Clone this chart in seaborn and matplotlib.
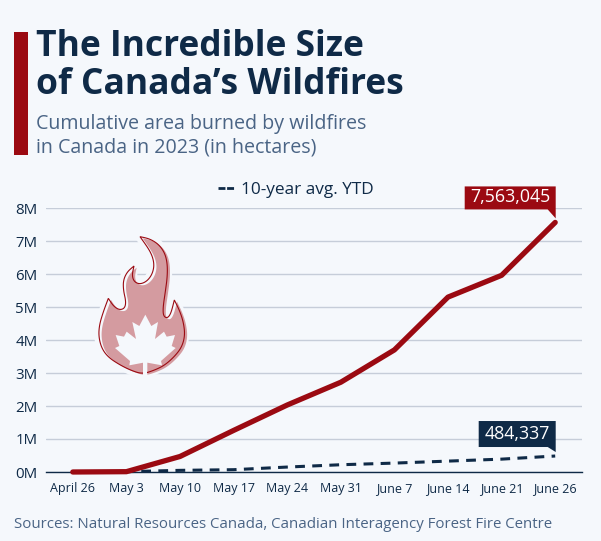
import numpy as np
import pandas as pd
import matplotlib
matplotlib.use("Agg")
import matplotlib.pyplot as plt
from matplotlib.patches import Polygon, Rectangle
from matplotlib.lines import Line2D
from matplotlib.ticker import FuncFormatter
import seaborn as sns

DATES = ["April 26", "May 3", "May 10", "May 17", "May 24", "May 31",
         "June 7", "June 14", "June 21", "June 26"]
AREA_2023 = [0, 10000, 470000, 1260000, 2030000, 2720000, 3700000, 5300000, 5960000, 7563045]
AVG_10Y = [0, 10000, 50000, 70000, 150000, 220000, 270000, 330000, 390000, 484337]

BG = "#f5f8fc"
RED = "#9b0a12"
NAVY = "#0f2a47"
SLATE = "#4a6485"
GRID = "#c6cdd9"

# flame icon, in zoomed pixels of the icon box
FLAME = [(240, 50), (268, 56), (295, 72), (314, 98), (322, 130), (322, 170), (316, 215),
         (309, 262), (310, 288), (322, 295), (333, 280), (343, 240), (358, 270), (370, 305),
         (375, 345), (366, 380), (345, 408), (315, 435), (285, 450), (248, 462), (215, 452),
         (180, 435), (145, 412), (125, 385), (116, 350), (118, 315), (130, 275), (145, 235),
         (160, 258), (178, 270), (194, 265), (198, 245), (190, 210), (190, 180), (202, 155),
         (222, 138), (216, 165), (222, 185), (240, 193), (262, 183), (278, 160), (283, 130),
         (272, 95)]
FLAME_TIPS = [(240, 50), (343, 240), (145, 235), (222, 138)]
LEAF = [(256, 284), (274, 318), (294, 306), (285, 357), (312, 335), (320, 350), (345, 345),
        (335, 378), (347, 384), (303, 423), (306, 436), (262, 428), (262, 472), (250, 472),
        (250, 428), (208, 436), (210, 423), (165, 384), (178, 378), (167, 345), (192, 350),
        (200, 335), (228, 357), (217, 306), (238, 318)]


def smooth(points, tips, rounds=3):
    # corner cutting, the flame tips stay sharp
    for _ in range(rounds):
        out = []
        for i, p in enumerate(points):
            q = points[(i + 1) % len(points)]
            if p in tips:
                out.append(p)
            else:
                out.append((0.75 * p[0] + 0.25 * q[0], 0.75 * p[1] + 0.25 * q[1]))
            if q not in tips:
                out.append((0.25 * p[0] + 0.75 * q[0], 0.25 * p[1] + 0.75 * q[1]))
        points = out
    return points


def icon_xy(points, dx=0, dy=0):
    return [(60 + (x + dx) / 3, 220 + (y + dy) / 3) for x, y in points]


def callout(px, ax, x, y, text, color, width, top_gap, height):
    # box with a small tail pointing at the last data point
    tx, ty = px.transData.inverted().transform(ax.transData.transform((x, y)))
    right = tx + 0.5
    bottom = ty - top_gap
    top = bottom - height
    px.add_patch(Polygon([(right - width, top), (right, top), (right, ty - 4),
                          (right - 8, bottom), (right - width, bottom)],
                         closed=True, facecolor=color, edgecolor="none"))
    px.text(right - width / 2, (top + bottom) / 2 - 0.5, text, color="white", fontsize=12.8,
            ha="center", va="center")


sns.set_theme(style="white")
plt.rcParams["font.family"] = ["Open Sans", "DejaVu Sans"]

fig = plt.figure(figsize=(6.01, 5.41), dpi=100, facecolor=BG)
ax = fig.add_axes([46 / 601, 1 - 472 / 541, 536 / 601, 264 / 541], facecolor=BG)

df = pd.DataFrame({"date": DATES, "area": AREA_2023, "avg": AVG_10Y})
sns.lineplot(data=df, x="date", y="avg", ax=ax, color=NAVY, lw=2.2, sort=False,
             linestyle=(0, (3.2, 2.4)), zorder=3)
sns.lineplot(data=df, x="date", y="area", ax=ax, color=RED, lw=3.8, sort=False, zorder=4,
             solid_capstyle="round")

ax.set_xlim(-0.5, 9.5)
ax.set_ylim(0, 8000000)
ax.set_yticks(np.arange(0, 9) * 1000000)
ax.yaxis.set_major_formatter(FuncFormatter(lambda v, _: f"{v / 1000000:.0f}M"))
ax.set_xlabel("")
ax.set_ylabel("")
ax.grid(axis="y", color=GRID, lw=1)
ax.set_axisbelow(True)
ax.tick_params(axis="y", length=0, pad=6, labelsize=10.8, labelcolor=NAVY)
ax.tick_params(axis="x", length=0, pad=7, labelsize=9, labelcolor=NAVY)
sns.despine(ax=ax, left=True, right=True, top=True, bottom=False)
ax.spines["bottom"].set_color(NAVY)
ax.spines["bottom"].set_linewidth(1)
ax.spines["bottom"].set_zorder(2)
for line in ax.lines:
    line.set_clip_on(False)

handle = Line2D([0], [0], color=NAVY, lw=2, linestyle=(0, (2.5, 0.6)))
fig.legend([handle], ["10-year avg. YTD"], loc="center left",
           bbox_to_anchor=(218 / 601, 1 - 190 / 541), frameon=False, fontsize=12.4,
           labelcolor=NAVY, handlelength=0.91, handletextpad=0.4, borderpad=0, borderaxespad=0)

# overlay in reference pixels for the header, icon and callouts
px = fig.add_axes([0, 0, 1, 1], facecolor="none")
px.set_xlim(0, 601)
px.set_ylim(541, 0)
px.axis("off")

px.add_patch(Rectangle((14, 32), 14, 123, facecolor=RED, edgecolor="none"))
px.text(36, 47, "The Incredible Size", color=NAVY, fontsize=25.5, fontweight="bold", va="center")
px.text(36, 85, "of Canada\u2019s Wildfires", color=NAVY, fontsize=25.5, fontweight="bold", va="center")
px.text(36, 124, "Cumulative area burned by wildfires", color=SLATE, fontsize=14.15, va="center")
px.text(36, 148, "in Canada in 2023 (in hectares)", color=SLATE, fontsize=14.15, va="center")
px.text(14, 524, "Sources: Natural Resources Canada, Canadian Interagency Forest Fire Centre",
        color=SLATE, fontsize=10.8, va="center")

flame = smooth(FLAME, FLAME_TIPS)
px.add_patch(Polygon(icon_xy(flame), closed=True, facecolor=BG, edgecolor=BG, lw=7, joinstyle="round"))
px.add_patch(Polygon(icon_xy(flame, 8, 5), closed=True, facecolor="#d49ba0", edgecolor="none"))
px.add_patch(Polygon(icon_xy(LEAF), closed=True, facecolor=BG, edgecolor="none"))
px.add_patch(Polygon(icon_xy(flame), closed=True, fill=False, edgecolor=RED, lw=0.8))
# the leaf stem cuts the flame outline at the bottom
px.add_patch(Rectangle((143.3, 360), 4, 18, facecolor=BG, edgecolor="none"))

callout(px, ax, 9, AREA_2023[-1], "7,563,045", RED, 91, 13, 23)
callout(px, ax, 9, AVG_10Y[-1], "484,337", NAVY, 77, 9, 26)

fig.savefig("out.png", dpi=100, facecolor=BG)
